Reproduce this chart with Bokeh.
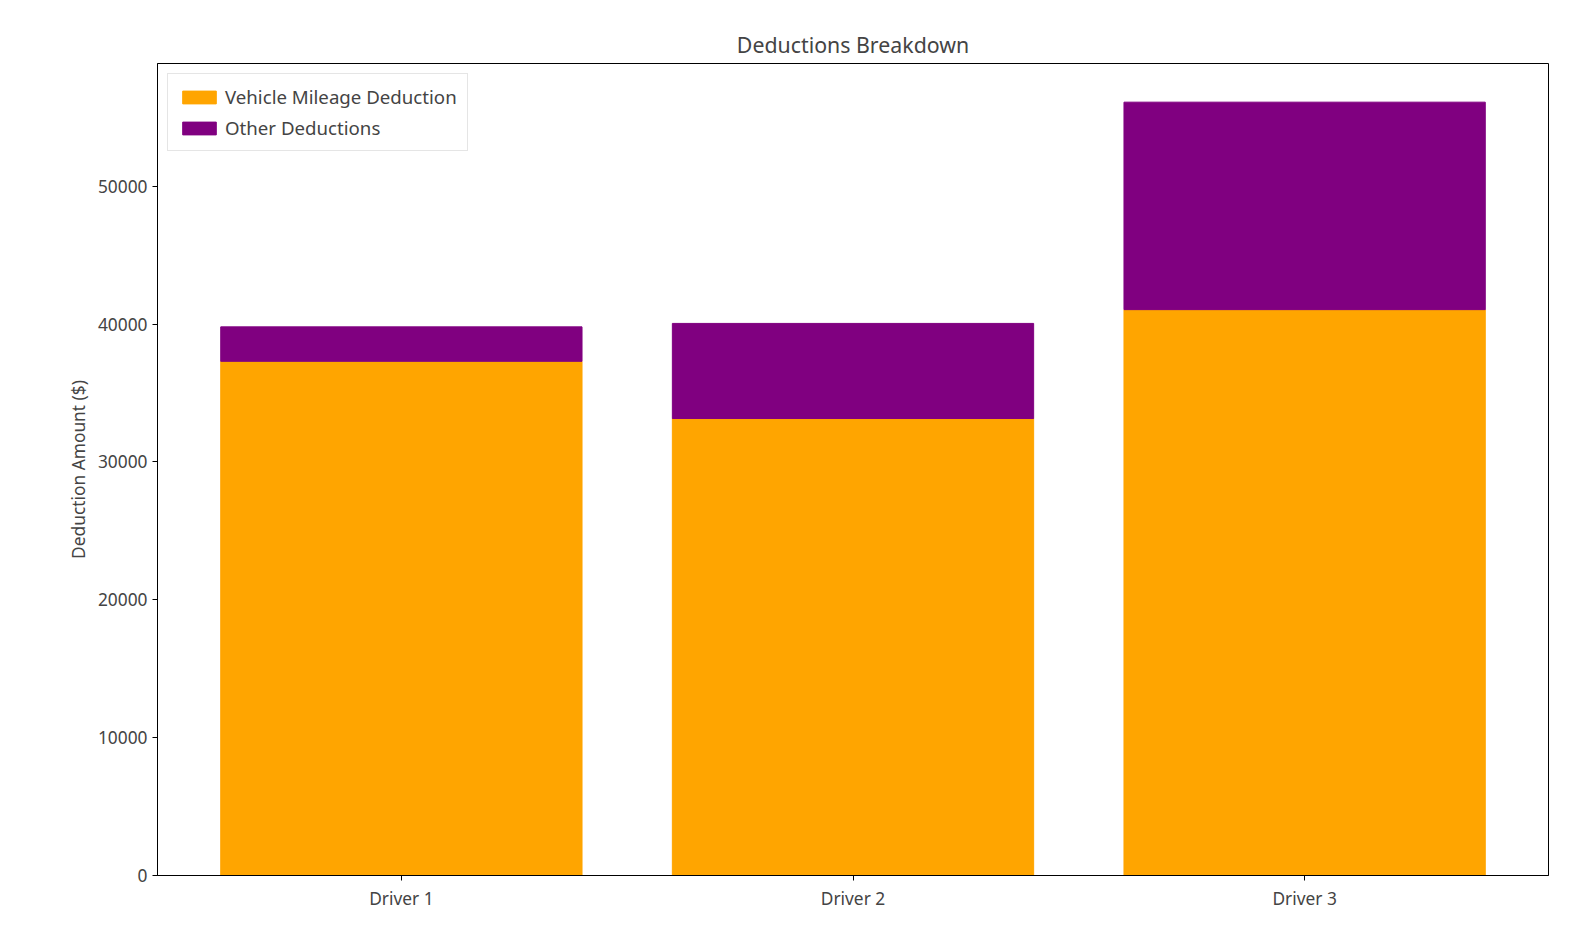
from bokeh.plotting import figure
from bokeh.models import Range1d, FixedTicker, Legend, LegendItem, ColumnDataSource
from bokeh.embed import file_html
from bokeh.resources import INLINE

drivers = ["Driver 1", "Driver 2", "Driver 3"]
mileage = [37300, 33150, 41050]
other = [2500, 6900, 15050]

x = list(range(len(drivers)))
totals = [m + o for m, o in zip(mileage, other)]
src = ColumnDataSource(dict(x=x, m=mileage, t=totals))

FONT = "Noto Sans"
p = figure(width=1566, height=920, output_backend="svg", toolbar_location=None,
           x_range=Range1d(-0.54, 2.54), y_range=Range1d(0, max(totals) * 1.05),
           title="Deductions Breakdown", min_border_left=157, min_border_right=18,
           min_border_top=63, min_border_bottom=45)
p.title.align = "center"
p.title.text_font = FONT
p.title.text_font_size = "16pt"
p.title.text_font_style = "normal"

r1 = p.vbar(x="x", top="m", bottom=0, width=0.8, source=src, color="orange")
r2 = p.vbar(x="x", top="t", bottom="m", width=0.8, source=src, color="purple")

p.xaxis.ticker = FixedTicker(ticks=x)
p.xaxis.major_label_overrides = {i: d for i, d in enumerate(drivers)}
p.yaxis.ticker = FixedTicker(ticks=[0, 10000, 20000, 30000, 40000, 50000])
p.yaxis.axis_label = "Deduction Amount ($)"
for ax in (p.xaxis[0], p.yaxis[0]):
    ax.major_label_text_font = FONT
    ax.major_label_text_font_size = "13pt"
    ax.axis_label_text_font = FONT
    ax.axis_label_text_font_size = "13pt"
    ax.axis_label_text_font_style = "normal"
    ax.minor_tick_line_color = None
    ax.major_tick_out = 5
    ax.major_tick_in = 0
    ax.axis_line_color = "black"
p.xgrid.visible = False
p.ygrid.visible = False
p.outline_line_color = "black"
p.outline_line_alpha = 1

leg = Legend(items=[LegendItem(label="Vehicle Mileage Deduction", renderers=[r1]),
                    LegendItem(label="Other Deductions", renderers=[r2])],
             location="top_left")
leg.label_text_font = FONT
leg.label_text_font_size = "14pt"
leg.border_line_color = "#cccccc"
leg.glyph_width = 42
leg.glyph_height = 16
leg.spacing = 6
leg.margin = 10
p.add_layout(leg)

open("out.html", "w").write(file_html(p, INLINE))
